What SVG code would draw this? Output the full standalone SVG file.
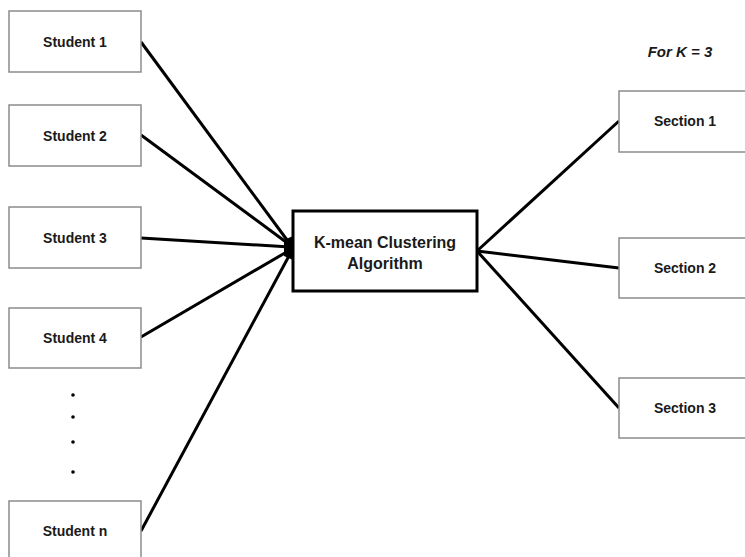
<svg xmlns="http://www.w3.org/2000/svg" width="745" height="557" viewBox="0 0 745 557">
<style>
.box{fill:#fff;stroke:#8c8c8c;stroke-width:1.5}
.lbl{font-family:"Liberation Sans",Arial,sans-serif;font-weight:bold;font-size:14px;fill:#1a1a1a;text-anchor:middle}
.main{fill:#fff;stroke:#000;stroke-width:3}
.mtxt{font-family:"Liberation Sans",Arial,sans-serif;font-weight:bold;font-size:16px;fill:#1a1a1a;text-anchor:middle}
.ln{stroke:#000;stroke-width:3;fill:none}
</style>
<rect width="745" height="557" fill="#fff"/>
<g id="connectors">
<line class="ln" x1="141" y1="42" x2="290" y2="244"/>
<line class="ln" x1="141" y1="135" x2="290" y2="245"/>
<line class="ln" x1="141" y1="238" x2="290" y2="247"/>
<line class="ln" x1="141" y1="337" x2="290" y2="250"/>
<line class="ln" x1="141" y1="531" x2="290" y2="254"/>
<path d="M284 240 L293 236 L293 260 L284 256 Z" fill="#000"/>
<line class="ln" x1="477" y1="251" x2="619" y2="121"/>
<line class="ln" x1="477" y1="251" x2="619" y2="268"/>
<line class="ln" x1="477" y1="251" x2="619" y2="408"/>
</g>
<g id="student1"><rect class="box" x="9" y="11" width="132" height="61"/><text class="lbl" x="75" y="47">Student 1</text></g>
<g id="student2"><rect class="box" x="9" y="105" width="132" height="61"/><text class="lbl" x="75" y="141">Student 2</text></g>
<g id="student3"><rect class="box" x="9" y="207" width="132" height="61"/><text class="lbl" x="75" y="243">Student 3</text></g>
<g id="student4"><rect class="box" x="9" y="308" width="132" height="60"/><text class="lbl" x="75" y="343">Student 4</text></g>
<g id="dots" fill="#000">
<circle cx="73" cy="395" r="1.8"/><circle cx="73" cy="417" r="1.8"/><circle cx="73" cy="442" r="1.8"/><circle cx="73" cy="472" r="1.8"/>
</g>
<g id="studentn"><rect class="box" x="9" y="501" width="132" height="70"/><text class="lbl" x="75" y="536">Student n</text></g>
<g id="kmeans"><rect class="main" x="293" y="211" width="184" height="80"/><text class="mtxt" x="385" y="248">K-mean Clustering</text><text class="mtxt" x="385" y="269">Algorithm</text></g>
<g id="section1"><rect class="box" x="619" y="91" width="140" height="61"/><text class="lbl" x="685" y="126">Section 1</text></g>
<g id="section2"><rect class="box" x="619" y="238" width="140" height="60"/><text class="lbl" x="685" y="273">Section 2</text></g>
<g id="section3"><rect class="box" x="619" y="378" width="140" height="60"/><text class="lbl" x="685" y="413">Section 3</text></g>
<g id="note"><text x="680" y="57" font-family="'Liberation Sans',Arial,sans-serif" font-weight="bold" font-style="italic" font-size="15" fill="#1a1a1a" text-anchor="middle">For K = 3</text></g>
</svg>
